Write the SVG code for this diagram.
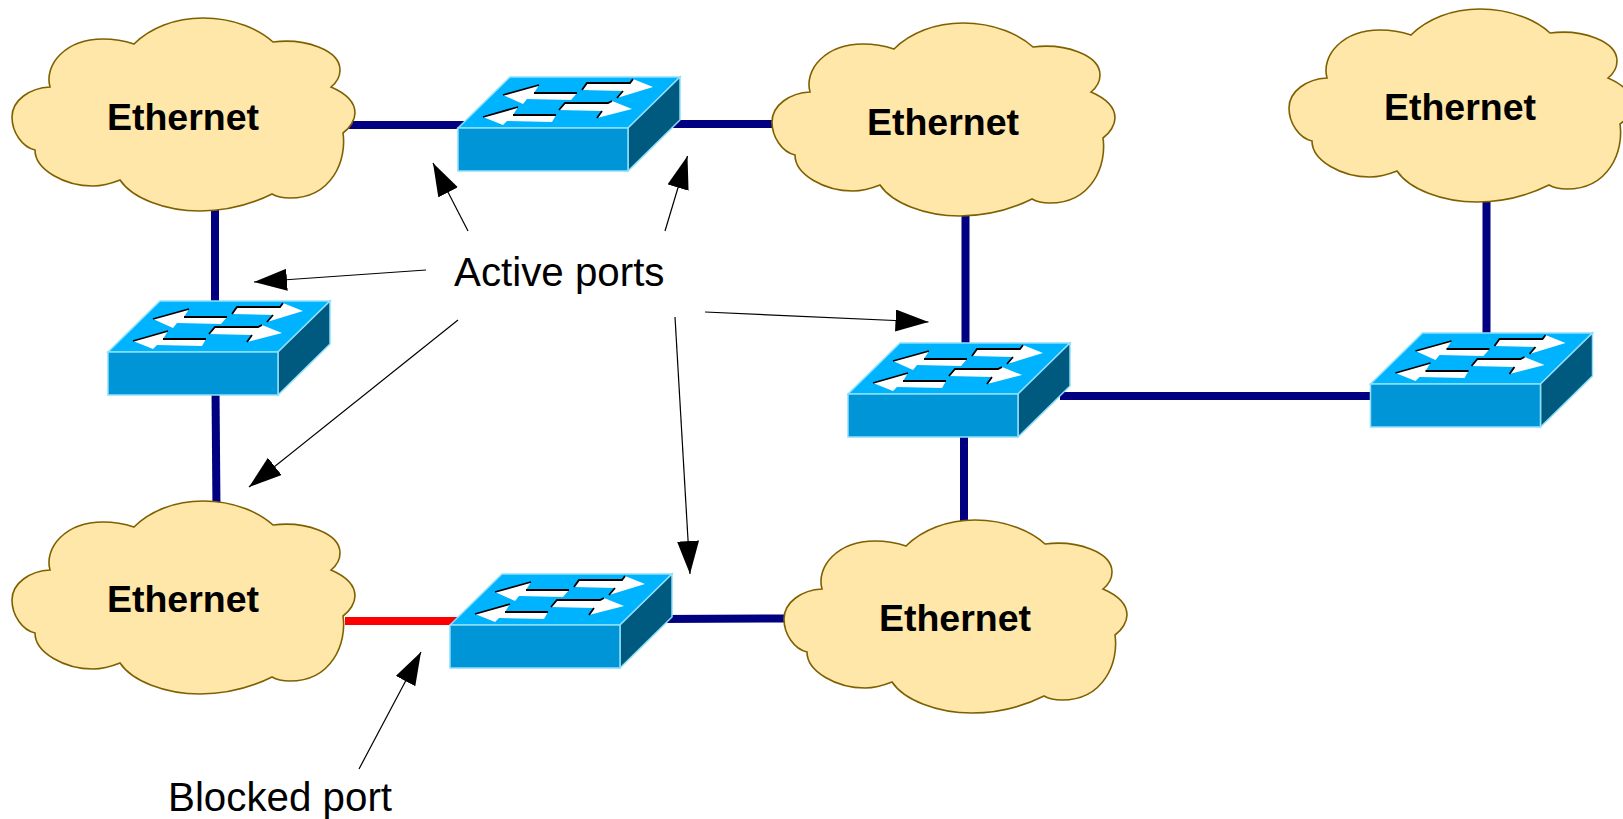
<svg xmlns="http://www.w3.org/2000/svg" width="1623" height="819" viewBox="0 0 1623 819">
<style>
.link{fill:none;stroke:#000080;stroke-width:8}
.blocked{fill:none;stroke:#ff0000;stroke-width:8}
.note{fill:none;stroke:#000;stroke-width:1.2;marker-end:url(#ah)}
.cloud{fill:#fee7a8;stroke:#7f6000;stroke-width:1.6}
.cl{font:bold 37.5px "Liberation Sans",Arial,sans-serif;fill:#000;text-anchor:middle}
.lb{font:40.3px "Liberation Sans",Arial,sans-serif;fill:#000}
.swtop{fill:#00b3ff;stroke:#8fe0fa;stroke-width:1.5}
.swside{fill:#005a80;stroke:#8fe0fa;stroke-width:1.5}
.swfront{fill:#0095d6;stroke:#8fe0fa;stroke-width:1.5}
</style>
<defs>
<marker id="ah" markerUnits="userSpaceOnUse" markerWidth="34" markerHeight="24" refX="33" refY="11" orient="auto"><path d="M0 0L33 11L0 22z" fill="#000"/></marker>
<path id="cloudshape" class="cloud" d="M134 44C150 28 175 18 203 18C235 18 260 30 273 42C305 38 340 50 340 70C340 77 336 83 331 87C345 93 355 102 355 113C355 120 350 128 343 133C347 160 332 198 290 198C283 198 277 197 272 194C250 205 225 211 200 211C165 211 132 198 120 180C110 184 100 186 93 186C65 186 35 170 35 150C22 147 12 132 12 117C12 100 30 88 50 87C44 65 65 39 103 39C115 39 125 41 134 44z"/>
<g id="sw">
<path class="swtop" d="M458 128L510 77H680L628 128z"/>
<path class="swside" d="M628 128L680 77V120L628 171z"/>
<rect class="swfront" x="458" y="128" width="170" height="43"/>
<path d="M539 85L503 95L523 104L527 99L571 100L577 93H534z" fill="#fff"/>
<path d="M518 107L483 117L503 125L507 121L552 122L556 115H513z" fill="#fff"/>
<path d="M582 90L587 83H630L633 79L653 87L617 98L623 91z" fill="#fff"/>
<path d="M559 110L565 103H608L612 101L632 109L597 118L602 111z" fill="#fff"/>
<path d="M539 85L503 95M534 93H577M518 107L483 117M513 115H556M582 90L587 83H630L633 79M559 110L565 103H608L612 101M623 91L617 98M602 111L597 118" fill="none" stroke="#000" stroke-width="1.8"/>
</g>
</defs>
<g id="connectors">
<path class="link" d="M345 125H470"/>
<path class="link" d="M670 124H780"/>
<path class="link" d="M215 205V310"/>
<path class="link" d="M215.500 390L216.500 510"/>
<path class="link" d="M965.500 210V350"/>
<path class="link" d="M964 435V530"/>
<path class="link" d="M1060 396H1380"/>
<path class="link" d="M1486.500 195V340"/>
<path class="link" d="M660 619L790 618.500"/>
<path class="blocked" d="M345 621H460"/>
<path class="note" d="M468 231L433 163"/>
<path class="note" d="M665 231L687.500 156"/>
<path class="note" d="M426 270L254 282"/>
<path class="note" d="M458 320L249 487"/>
<path class="note" d="M705 312L928.500 322"/>
<path class="note" d="M675 317L690 574"/>
<path class="note" d="M359 769L421 652"/>
</g>
<g id="cloud1"><use href="#cloudshape"/><text class="cl" x="183" y="130">Ethernet</text></g>
<g id="cloud2"><use href="#cloudshape" x="760" y="5"/><text class="cl" x="943" y="134.500">Ethernet</text></g>
<g id="cloud3"><use href="#cloudshape" x="1277" y="-9"/><text class="cl" x="1460" y="120">Ethernet</text></g>
<g id="cloud4"><use href="#cloudshape" x="0" y="483"/><text class="cl" x="183" y="612">Ethernet</text></g>
<g id="cloud5"><use href="#cloudshape" x="772" y="502"/><text class="cl" x="955" y="631">Ethernet</text></g>
<g id="switch1"><use href="#sw"/></g>
<g id="switch2"><use href="#sw" x="-350" y="224"/></g>
<g id="switch3"><use href="#sw" x="390" y="266"/></g>
<g id="switch4"><use href="#sw" x="912.500" y="256"/></g>
<g id="switch5"><use href="#sw" x="-8" y="497"/></g>
<text class="lb" x="454" y="286">Active ports</text>
<text class="lb" x="168" y="811">Blocked port</text>
</svg>
